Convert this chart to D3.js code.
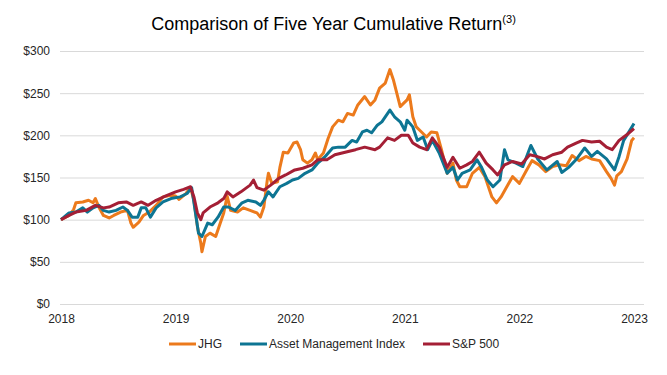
<!DOCTYPE html>
<html lang="en">
<head>
    <meta charset="UTF-8">
    <title>Five Year Cumulative Return</title>
    <style>
        body { margin: 0; background: #fff; }
        text { font-family: "Liberation Sans", Arial, sans-serif; }
    </style>
</head>
<body>
<script src="https://d3js.org/d3.v7.min.js"></script>
<script>

    // tick labels
    let years = [2018, 2019, 2020, 2021, 2022, 2023];
    let yTicks = [0, 50, 100, 150, 200, 250, 300];
    let names = ["JHG", "Asset Management Index", "S&P 500"];

    // [years since start, value of $100 invested]
    let jhg = [
        [0.00, 100], [0.07, 105], [0.11, 112], [0.13, 120], [0.19, 121], [0.24, 123], [0.28, 120],
        [0.30, 125], [0.33, 115], [0.37, 105], [0.42, 102], [0.46, 105], [0.52, 109], [0.58, 111],
        [0.61, 96], [0.63, 91], [0.68, 97], [0.72, 105], [0.77, 109], [0.83, 117], [0.89, 127],
        [0.96, 129], [1.00, 128], [1.03, 124], [1.09, 131], [1.13, 138], [1.16, 123], [1.19, 92],
        [1.22, 72], [1.23, 62], [1.26, 80], [1.30, 84], [1.35, 80], [1.39, 96], [1.42, 108],
        [1.45, 128], [1.48, 111], [1.54, 109], [1.59, 114], [1.65, 111], [1.71, 108], [1.74, 103],
        [1.77, 115], [1.80, 147], [1.81, 155], [1.84, 143], [1.89, 145], [1.91, 162], [1.94, 180],
        [1.98, 179], [2.03, 191], [2.06, 192], [2.09, 183], [2.11, 171], [2.15, 167], [2.19, 171],
        [2.22, 179], [2.24, 171], [2.29, 179], [2.33, 196], [2.37, 210], [2.42, 218], [2.46, 216],
        [2.50, 226], [2.55, 224], [2.59, 236], [2.65, 246], [2.70, 236], [2.74, 242], [2.78, 256],
        [2.83, 262], [2.87, 278], [2.90, 266], [2.93, 250], [2.96, 234], [3.02, 242], [3.04, 248],
        [3.07, 222], [3.10, 210], [3.13, 206], [3.19, 198], [3.23, 204], [3.28, 203], [3.32, 183],
        [3.37, 155], [3.42, 167], [3.45, 147], [3.48, 139], [3.54, 139], [3.59, 155], [3.65, 162],
        [3.70, 151], [3.76, 127], [3.80, 120], [3.84, 127], [3.89, 139], [3.94, 151], [4.00, 143],
        [4.06, 158], [4.11, 170], [4.17, 165], [4.23, 157], [4.29, 163], [4.35, 165], [4.41, 164],
        [4.46, 176], [4.52, 170], [4.58, 175], [4.63, 172], [4.70, 170], [4.76, 157], [4.80, 149],
        [4.83, 141], [4.85, 152], [4.89, 157], [4.94, 172], [4.98, 194], [5.00, 197]
    ];

    let assetMgmt = [
        [0.00, 100], [0.07, 108], [0.13, 109], [0.19, 114], [0.23, 109], [0.28, 114], [0.33, 117],
        [0.37, 111], [0.42, 109], [0.48, 111], [0.54, 115], [0.58, 111], [0.62, 103], [0.67, 103],
        [0.70, 114], [0.74, 114], [0.78, 103], [0.83, 114], [0.89, 121], [0.96, 125], [1.04, 127],
        [1.10, 131], [1.14, 138], [1.17, 111], [1.20, 84], [1.23, 80], [1.28, 96], [1.32, 94],
        [1.37, 103], [1.42, 115], [1.46, 115], [1.52, 111], [1.58, 120], [1.63, 123], [1.70, 121],
        [1.74, 117], [1.77, 123], [1.81, 133], [1.85, 127], [1.91, 139], [1.97, 143], [2.02, 147],
        [2.07, 149], [2.13, 155], [2.19, 159], [2.24, 167], [2.30, 174], [2.37, 185], [2.42, 186],
        [2.48, 186], [2.54, 194], [2.58, 192], [2.63, 204], [2.67, 206], [2.71, 203], [2.76, 212],
        [2.80, 216], [2.84, 224], [2.87, 230], [2.91, 222], [2.96, 216], [3.00, 206], [3.02, 218],
        [3.07, 210], [3.11, 194], [3.16, 198], [3.20, 183], [3.24, 194], [3.30, 179], [3.37, 155],
        [3.42, 162], [3.46, 147], [3.50, 155], [3.57, 159], [3.63, 171], [3.67, 162], [3.72, 147],
        [3.77, 139], [3.83, 147], [3.87, 183], [3.90, 171], [3.97, 167], [4.03, 163], [4.10, 188],
        [4.16, 172], [4.19, 167], [4.24, 159], [4.33, 169], [4.37, 156], [4.43, 162], [4.50, 172],
        [4.57, 185], [4.63, 175], [4.68, 181], [4.76, 172], [4.83, 159], [4.87, 175], [4.91, 194],
        [4.96, 205], [5.00, 214]
    ];

    let sp500 = [
        [0.00, 100], [0.07, 105], [0.13, 109], [0.22, 111], [0.30, 117], [0.37, 114], [0.42, 115],
        [0.50, 120], [0.57, 121], [0.63, 117], [0.70, 121], [0.76, 117], [0.83, 123], [0.91, 128],
        [1.00, 133], [1.07, 136], [1.13, 139], [1.16, 127], [1.19, 108], [1.22, 100], [1.24, 108],
        [1.30, 115], [1.37, 120], [1.42, 125], [1.45, 133], [1.50, 127], [1.57, 133], [1.65, 141],
        [1.68, 147], [1.71, 138], [1.77, 135], [1.83, 141], [1.90, 149], [1.96, 153], [2.04, 159],
        [2.11, 161], [2.19, 165], [2.24, 171], [2.32, 171], [2.39, 177], [2.48, 180], [2.57, 183],
        [2.65, 186], [2.74, 183], [2.78, 186], [2.85, 197], [2.91, 194], [2.97, 200], [3.03, 200],
        [3.07, 191], [3.13, 186], [3.19, 183], [3.24, 197], [3.30, 186], [3.37, 162], [3.42, 174],
        [3.48, 161], [3.54, 165], [3.59, 169], [3.65, 180], [3.71, 167], [3.77, 159], [3.81, 153],
        [3.87, 165], [3.94, 169], [4.02, 166], [4.09, 177], [4.15, 175], [4.22, 172], [4.29, 177],
        [4.37, 180], [4.42, 186], [4.50, 191], [4.55, 194], [4.63, 192], [4.70, 193], [4.76, 186],
        [4.81, 183], [4.87, 194], [4.94, 201], [5.00, 208]
    ];

    let colors = ["#ec7a1c", "#0d7593", "#a41f35"];
    let series = [jhg, assetMgmt, sp500];

    let w = 667, h = 375;
    let inner = {top: 51, right: 30, bottom: 71, left: 60};

    let svg = d3.select("body")
        .append("svg")
        .attr("width", w)
        .attr("height", h);

    let xScale = d3.scaleLinear()
        .domain([0, 5])
        .range([inner.left + 1, w - inner.right - 3]);

    let yScale = d3.scaleLinear()
        .domain([0, 300])
        .range([h - inner.bottom, inner.top]);

    // 标题
    let title = svg.append("text")
        .attr("x", w / 2)
        .attr("y", 30)
        .attr("text-anchor", "middle")
        .style("font-size", "18px")
        .style("fill", "#000");
    title.append("tspan").text("Comparison of Five Year Cumulative Return");
    title.append("tspan")
        .attr("dy", -7)
        .style("font-size", "11px")
        .text("(3)");

    // 网格线 + y轴
    let yAxis = d3.axisLeft(yScale)
        .tickValues(yTicks)
        .tickSize(-(w - inner.left - inner.right + 7))
        .tickPadding(10)
        .tickFormat(d => "$" + d);

    svg.append("g")
        .attr("transform", "translate(" + inner.left + ",0)")
        .call(yAxis)
        .call(g => g.select(".domain").remove())
        .call(g => g.selectAll(".tick line").attr("stroke", "#d9d9d9").attr("stroke-width", 1))
        .call(g => g.selectAll(".tick text").style("font-size", "12px").style("fill", "#262626"));

    // x轴
    let xAxis = d3.axisBottom(xScale)
        .tickValues(d3.range(years.length))
        .tickSize(0)
        .tickPadding(10)
        .tickFormat(i => years[i]);

    svg.append("g")
        .attr("transform", "translate(0," + (h - inner.bottom) + ")")
        .call(xAxis)
        .call(g => g.select(".domain").remove())
        .call(g => g.selectAll(".tick text").style("font-size", "12px").style("fill", "#262626"));

    // 折线
    let line = d3.line()
        .x(d => xScale(d[0]))
        .y(d => yScale(d[1]));

    series.forEach(function (s, i) {
        svg.append("path")
            .attr("d", line(s))
            .attr("fill", "none")
            .attr("stroke", colors[i])
            .attr("stroke-width", 3)
            .attr("stroke-linejoin", "round");
    });

    // 图例
    let legendX = [169, 240, 423];
    let legend = svg.append("g");
    names.forEach(function (n, i) {
        legend.append("line")
            .attr("x1", legendX[i])
            .attr("x2", legendX[i] + 27)
            .attr("y1", 344)
            .attr("y2", 344)
            .attr("stroke", colors[i])
            .attr("stroke-width", 3);
        legend.append("text")
            .attr("x", legendX[i] + 29)
            .attr("y", 348)
            .style("font-size", "12px")
            .style("fill", "#262626")
            .text(n);
    });

</script>
</body>
</html>
